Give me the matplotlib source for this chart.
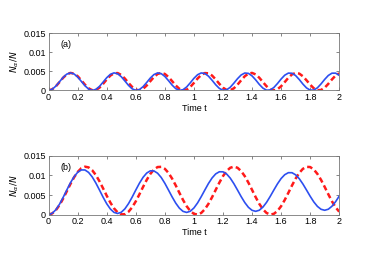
import numpy as np
import matplotlib
matplotlib.use('Agg')
import matplotlib.pyplot as plt

# time samples (step 0.025)
t = np.arange(81) * 0.025

# panel (a), values in units of 1e-3
a_blue = [0.00, 0.30, 1.14, 2.28, 3.42, 4.27, 4.60, 4.32, 3.50, 2.37, 1.22, 0.35, 0.00,
          0.26, 1.05, 2.18, 3.34, 4.22, 4.60, 4.36, 3.59, 2.47, 1.31, 0.41, 0.01,
          0.22, 0.98, 2.08, 3.25, 4.16, 4.59, 4.40, 3.66, 2.56, 1.39, 0.46, 0.02,
          0.18, 0.90, 1.99, 3.17, 4.11, 4.58, 4.44, 3.74, 2.66, 1.48, 0.52, 0.03,
          0.14, 0.82, 1.90, 3.07, 4.05, 4.56, 4.47, 3.81, 2.76, 1.57, 0.59, 0.05,
          0.11, 0.75, 1.80, 2.98, 3.99, 4.54, 4.50, 3.89, 2.85, 1.66, 0.65, 0.07,
          0.08, 0.68, 1.71, 2.89, 3.92, 4.52, 4.53, 3.95]
a_red = [0.00, 0.29, 1.08, 2.18, 3.32, 4.19, 4.59, 4.41, 3.71, 2.65, 1.50, 0.55, 0.05,
         0.11, 0.71, 1.72, 2.88, 3.89, 4.49, 4.55, 4.05, 3.10, 1.96, 0.90, 0.19,
         0.01, 0.41, 1.29, 2.42, 3.51, 4.31, 4.60, 4.31, 3.51, 2.42, 1.29, 0.41,
         0.01, 0.19, 0.90, 1.96, 3.10, 4.05, 4.55, 4.49, 3.89, 2.88, 1.72, 0.71,
         0.11, 0.05, 0.55, 1.50, 2.65, 3.71, 4.41, 4.59, 4.19, 3.32, 2.18, 1.08,
         0.29, 0.00, 0.29, 1.08, 2.18, 3.32, 4.19, 4.59, 4.41, 3.71, 2.65, 1.50,
         0.55, 0.05, 0.11, 0.71, 1.72, 2.88, 3.89, 4.49]

# panel (b), values in units of 1e-3
b_blue = [0.00, 0.33, 1.25, 2.65, 4.39, 6.28, 8.10, 9.67, 10.81, 11.41, 11.40, 10.78,
          9.63, 8.07, 6.28, 4.44, 2.76, 1.42, 0.56, 0.28, 0.59, 1.47, 2.81, 4.47,
          6.28, 8.02, 9.52, 10.61, 11.18, 11.16, 10.57, 9.48, 7.99, 6.27, 4.52, 2.92,
          1.64, 0.82, 0.55, 0.85, 1.69, 2.97, 4.56, 6.27, 7.94, 9.36, 10.40, 10.94,
          10.93, 10.37, 9.32, 7.90, 6.27, 4.60, 3.08, 1.86, 1.09, 0.83, 1.11, 1.91,
          3.13, 4.64, 6.27, 7.85, 9.21, 10.19, 10.71, 10.70, 10.16, 9.17, 7.82, 6.27,
          4.69, 3.24, 2.09, 1.35, 1.10, 1.37, 2.13, 3.29, 4.72]
b_red = [0.00, 0.29, 1.13, 2.43, 4.09, 5.94, 7.80, 9.51, 10.90, 11.84, 12.24, 12.06,
         11.33, 10.11, 8.51, 6.69, 4.81, 3.06, 1.60, 0.56, 0.05, 0.10, 0.73, 1.86,
         3.39, 5.19, 7.07, 8.86, 10.39, 11.52, 12.15, 12.20, 11.69, 10.65, 9.19, 7.44,
         5.56, 3.74, 2.14, 0.92, 0.19, 0.01, 0.41, 1.35, 2.74, 4.45, 6.32, 8.16,
         9.82, 11.12, 11.96, 12.25, 11.96, 11.12, 9.82, 8.16, 6.32, 4.45, 2.74, 1.35,
         0.41, 0.01, 0.19, 0.92, 2.14, 3.74, 5.56, 7.44, 9.19, 10.65, 11.69, 12.20,
         12.15, 11.52, 10.39, 8.86, 7.07, 5.19, 3.39, 1.86, 0.73]

plt.rcParams['font.family'] = ['Liberation Sans', 'DejaVu Sans']
plt.rcParams['font.size'] = 6.5

fig = plt.figure(figsize=(3.74, 2.62), dpi=100)
ax1 = fig.add_axes([0.130, 0.655, 0.777, 0.218])
ax2 = fig.add_axes([0.130, 0.181, 0.777, 0.224])

panels = [(ax1, a_blue, a_red, '(a)'), (ax2, b_blue, b_red, '(b)')]
for ax, blue, red, tag in panels:
    ax.plot(t, np.array(red) * 1e-3, color='#ff1a1a', lw=1.8, ls=(0, (2.2, 1.3)))
    ax.plot(t, np.array(blue) * 1e-3, color='#2d4ff0', lw=1.2)
    ax.set_xlim(0, 2)
    ax.set_ylim(0, 0.015)
    ax.set_xticks(np.arange(0, 2.01, 0.2))
    ax.set_xticklabels(['0', '0.2', '0.4', '0.6', '0.8', '1', '1.2', '1.4', '1.6', '1.8', '2'])
    ax.set_yticks([0, 0.005, 0.01, 0.015])
    ax.set_yticklabels(['0', '0.005', '0.01', '0.015'])
    ax.tick_params(direction='in', length=2, width=0.5, top=True, right=True, pad=2,
                   color='#555555')
    for s in ax.spines.values():
        s.set_color('#777777')
        s.set_linewidth(0.6)
    ax.set_xlabel('Time t', labelpad=1)
    ax.set_ylabel(r'$N_\alpha/N$', labelpad=2)
    ax.text(0.04, 0.76, tag, transform=ax.transAxes, fontsize=6.5)

fig.savefig('out.png', dpi=100)
